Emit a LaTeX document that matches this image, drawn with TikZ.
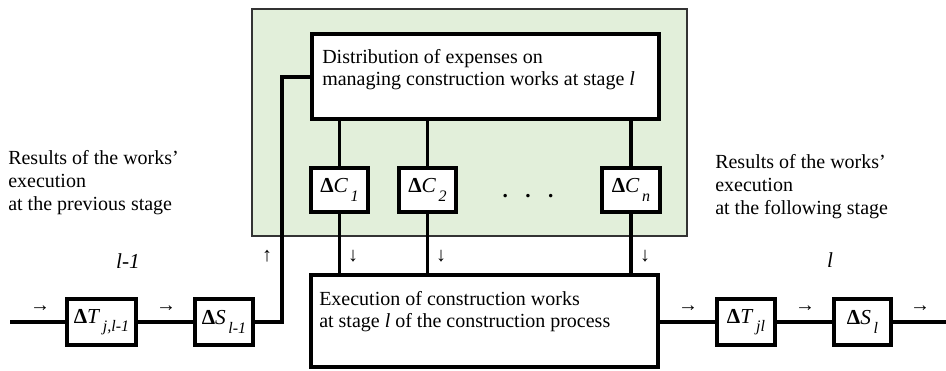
\documentclass[tikz,border=0pt]{standalone}
\usepackage{fontspec}
\setmainfont{Liberation Serif}
\definecolor{panelgreen}{HTML}{E2EFDA}
\def\u{0.75pt}
\tikzset{
  box/.style={draw, line width=3.2pt, fill=white, inner sep=0pt},
  conn/.style={line width=3pt},
  branch/.style={line width=2.6pt},
  lbl/.style={font=\fontsize{15}{16.8}\selectfont, align=left, inner sep=0pt, anchor=north west},
  sidelbl/.style={lbl, font=\fontsize{15}{17.3}\selectfont},
  arr/.style={font=\fontsize{15}{15}\selectfont, inner sep=0pt},
  sym/.style={font=\fontsize{16}{16}\selectfont, inner sep=0pt},
  stagelbl/.style={font=\fontsize{16}{16}\selectfont\itshape, inner sep=0pt, anchor=base},
}
\newcommand{\subx}[1]{\raisebox{-0.4em}{\fontsize{12}{12}\selectfont\itshape #1}}
\begin{document}
\begin{tikzpicture}[x=0.75pt, y=-0.75pt]
\useasboundingbox (0,0) rectangle (946,371);
% panel
\node[draw=black!80, line width=0.8pt, fill=panelgreen, inner sep=0pt,
      minimum width=435*\u, minimum height=227*\u] (panel) at (469.5,122.5) {};
% boxes
\node[box, minimum width=347*\u, minimum height=85*\u] (dist) at (485.5,76.5) {};
\node[lbl] (disttext) at (322,49) {Distribution of expenses on\\managing construction works at stage \textit{l}};
\node[box, minimum width=347*\u, minimum height=92*\u] (exec) at (484.5,321) {};
\node[lbl] (exectext) at (319,291) {Execution of construction works\\at stage \textit{l} of the construction process};
\node[box, sym, minimum width=57*\u, minimum height=44*\u] (c1) at (339.5,190) {\textbf{Δ}\textit{C}\subx{\,1}};
\node[box, sym, minimum width=57*\u, minimum height=44*\u] (c2) at (427.5,190) {\textbf{Δ}\textit{C}\subx{\,2}};
\node[box, sym, minimum width=58*\u, minimum height=44*\u] (cn) at (631,190) {\textbf{Δ}\textit{C}\subx{\,n}};
\node[sym, anchor=base] (dots) at (528,197) {\textbf{.}\hspace{13pt}\textbf{.}\hspace{13pt}\textbf{.}};
\node[box, sym, minimum width=69*\u, minimum height=46*\u] (t1) at (101.5,322) {\textbf{Δ}\textit{T}\subx{\,j,l-1}};
\node[box, sym, minimum width=58*\u, minimum height=46*\u] (s1) at (224,322) {\textbf{Δ}\textit{S}\subx{\,l-1}};
\node[box, sym, minimum width=58*\u, minimum height=46*\u] (t2) at (746,322) {\textbf{Δ}\textit{T}\subx{\,jl}};
\node[box, sym, minimum width=57*\u, minimum height=46*\u] (s2) at (862.5,322) {\textbf{Δ}\textit{S}\subx{\,l}};
% free ends
\coordinate (in) at (10,322);
\coordinate (out) at (946,322);
\coordinate (up) at (282,77);
% connectors
\draw[conn] (in) -- (t1.west);
\draw[conn] (t1.east) -- (s1.west);
\draw[conn] (s1.east) -| (up) -- (up -| dist.west);
\draw[conn] (exec.east |- t2.west) -- (t2.west);
\draw[conn] (t2.east) -- (s2.west);
\draw[conn] (s2.east) -- (out);
\foreach \c in {c1,c2,cn}{
  \draw[branch] (dist.south -| \c.north) -- (\c.north);
  \draw[branch] (\c.south) -- (\c.south |- exec.north);
}
% arrow marks
\node[arr] (a1) at (40,309) {→};
\node[arr] (a2) at (166,309) {→};
\node[arr] (a3) at (688,309) {→};
\node[arr] (a4) at (805,309) {→};
\node[arr] (a5) at (920,309) {→};
\node[arr] (a6) at (267,256) {↑};
\node[arr] (a7) at (353,256) {↓};
\node[arr] (a8) at (441,256) {↓};
\node[arr] (a9) at (645,256) {↓};
% labels
\node[sidelbl] (lefttext) at (8,150) {Results of the works’\\execution\\at the previous stage};
\node[sidelbl] (righttext) at (715,154) {Results of the works’\\execution\\at the following stage};
\node[stagelbl] (lprev) at (128,268) {l-1};
\node[stagelbl] (lcur) at (830,267) {l};
\end{tikzpicture}
\end{document}
